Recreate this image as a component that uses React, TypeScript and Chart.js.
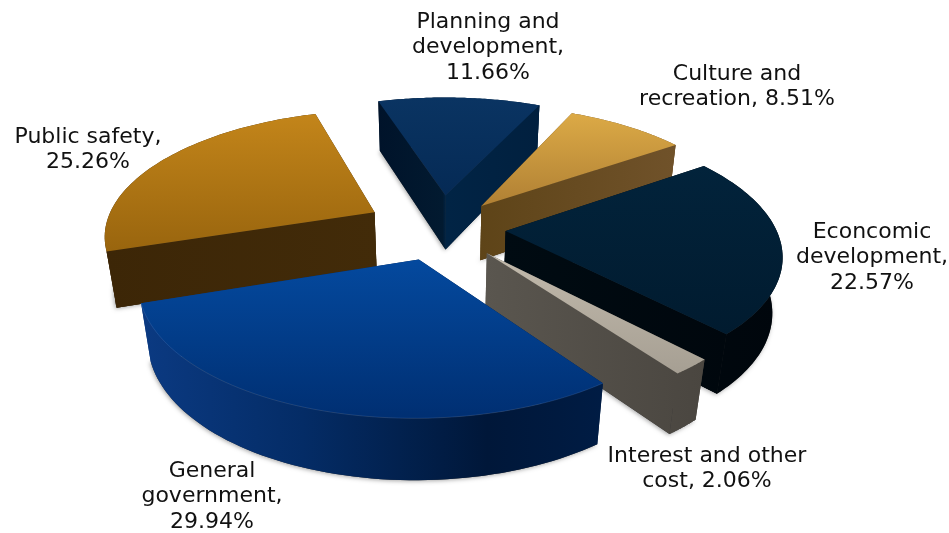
import React, { useEffect, useRef } from "react";
import { Chart, registerables } from "chart.js";

Chart.register(...registerables);

const categories = [
  "General government",
  "Public safety",
  "Planning and development",
  "Culture and recreation",
  "Econcomic development",
  "Interest and other cost",
];
const shares = [29.94, 25.26, 11.66, 8.51, 22.57, 2.06];

// Text rows of each callout; {v} is replaced with the formatted share.
const calloutRows = [
  ["General", "government,", "{v}"],
  ["Public safety,", "{v}"],
  ["Planning and", "development,", "{v}"],
  ["Culture and", "recreation, {v}"],
  ["Econcomic", "development,", "{v}"],
  ["Interest and other", "cost, {v}"],
];
const calloutAnchors = [
  [212, 471],
  [88, 137],
  [488, 22],
  [737, 74],
  [872, 232],
  [707, 456],
];

const explode = [60, 66, 64, 56, 56, 60];
// Outward reach of each wedge relative to the pie radius.
const reach = [0.98, 1, 1, 1, 1, 0.97];

const topFaces = [
  ["#04499e", "#002f72"],
  ["#c3851a", "#99650e"],
  ["#0a3462", "#052a55"],
  ["#dcaa46", "#b08034"],
  ["#02233b", "#011b2f"],
  ["#c2baac", "#a69f93"],
];
const wallFaces: [number, string][][] = [
  [[0, "#0b3a82"], [0.35, "#042c66"], [0.75, "#001739"], [1, "#001c44"]],
  [[0, "#3c2607"], [1, "#422b09"]],
  [[0, "#00132a"], [0.4, "#021a30"], [0.42, "#012445"], [1, "#01203f"]],
  [[0, "#5e4418"], [1, "#70522a"]],
  [[0, "#000b12"], [1, "#00060c"]],
  [[0, "#5a564f"], [1, "#4a4640"]],
];

// Perspective camera looking down on the pie plane.
const VIEW = { cx: 441, cy: 228, a: 270, b: 124, depth: 57, p: 0.165, q: 0.03 };

function project(u: number, v: number, z: number): [number, number] {
  const s = 1 / (1 - VIEW.p * v + VIEW.q * z);
  return [VIEW.cx + VIEW.a * u * s, VIEW.cy + (VIEW.b * v + VIEW.depth * z) * s];
}

function traceLoop(ctx: CanvasRenderingContext2D, pts: [number, number][]) {
  ctx.beginPath();
  pts.forEach(([x, y], i) => (i ? ctx.lineTo(x, y) : ctx.moveTo(x, y)));
  ctx.closePath();
}

const pie3d = {
  id: "pie3d",
  beforeDatasetDraw(chart: any) {
    const ctx: CanvasRenderingContext2D = chart.ctx;
    const arcs = chart.getDatasetMeta(0).data;
    const slices = arcs.map((arc: any, index: number) => {
      const { startAngle, endAngle, outerRadius } = arc.getProps(
        ["startAngle", "endAngle", "outerRadius"],
        true
      );
      const mid = (startAngle + endAngle) / 2;
      const gap = (arc.options.offset || 0) / outerRadius;
      return { index, startAngle, endAngle, mid, ou: gap * Math.cos(mid), ov: gap * Math.sin(mid) };
    });

    // Painter's order: slices nearest the back of the plane first.
    slices.sort((s: any, t: any) => Math.sin(s.mid) - Math.sin(t.mid));

    for (const s of slices) {
      const steps = 64;
      const r = reach[s.index];
      const rim = (z: number) => {
        const out: [number, number][] = [];
        for (let i = 0; i <= steps; i++) {
          const t = s.startAngle + ((s.endAngle - s.startAngle) * i) / steps;
          out.push(project(s.ou + r * Math.cos(t), s.ov + r * Math.sin(t), z));
        }
        return out;
      };
      const topRim = rim(0);
      const lowRim = rim(1);
      const apexTop = project(s.ou, s.ov, 0);
      const apexLow = project(s.ou, s.ov, 1);
      const all = [...topRim, ...lowRim, apexTop, apexLow];
      const xs = all.map((p) => p[0]);
      const topYs = [...topRim, apexTop].map((p) => p[1]);

      const wall = ctx.createLinearGradient(Math.min(...xs), 0, Math.max(...xs), 0);
      wallFaces[s.index].forEach(([o, c]) => wall.addColorStop(o, c));
      const top = ctx.createLinearGradient(0, Math.min(...topYs), 0, Math.max(...topYs));
      top.addColorStop(0, topFaces[s.index][0]);
      top.addColorStop(1, topFaces[s.index][1]);

      const walls = [
        { a: topRim[0], b: lowRim[0], sortV: Math.sin(s.startAngle) },
        { a: topRim[steps], b: lowRim[steps], sortV: Math.sin(s.endAngle) },
      ].sort((m, n) => m.sortV - n.sortV);
      const front = walls[1];

      // Soft contact shadow under the parts of the wall facing the viewer.
      ctx.save();
      ctx.fillStyle = "#333";
      ctx.shadowColor = "rgba(0,0,0,0.35)";
      ctx.shadowBlur = 4;
      ctx.shadowOffsetX = -1;
      ctx.shadowOffsetY = 1;
      traceLoop(ctx, [...lowRim, apexLow]);
      ctx.fill();
      ctx.restore();

      ctx.fillStyle = wall;
      for (const w of walls) {
        traceLoop(ctx, [apexTop, w.a, w.b, apexLow]);
        ctx.fill();
      }
      traceLoop(ctx, [...topRim, ...[...lowRim].reverse()]);
      ctx.fill();
      traceLoop(ctx, [apexTop, front.a, front.b, apexLow]);
      if (Math.sin(s.mid) < 0.5) ctx.fill();

      ctx.fillStyle = top;
      traceLoop(ctx, [apexTop, ...topRim]);
      ctx.fill();

      // Faint bevel highlight along the front curved edge.
      if (s.index === 0) {
        ctx.beginPath();
        topRim.forEach(([x, y], i) => (i ? ctx.lineTo(x, y) : ctx.moveTo(x, y)));
        ctx.strokeStyle = "rgba(120,160,220,0.18)";
        ctx.lineWidth = 1;
        ctx.stroke();
      }
    }
    return false;
  },
  afterDraw(chart: any) {
    const ctx: CanvasRenderingContext2D = chart.ctx;
    ctx.save();
    ctx.font = '22px "DejaVu Sans"';
    ctx.fillStyle = "#111111";
    ctx.textAlign = "center";
    ctx.textBaseline = "middle";
    calloutRows.forEach((rows, i) => {
      const [x, y] = calloutAnchors[i];
      rows.forEach((row, r) => {
        ctx.fillText(row.replace("{v}", shares[i].toFixed(2) + "%"), x, y + r * 25.7);
      });
    });
    ctx.restore();
  },
};

export default function App() {
  const ref = useRef<HTMLCanvasElement>(null);
  useEffect(() => {
    const chart = new Chart(ref.current!, {
      type: "pie",
      data: {
        labels: categories,
        datasets: [
          {
            data: shares,
            backgroundColor: topFaces.map((f) => f[0]),
            borderWidth: 0,
            offset: explode,
          },
        ],
      },
      options: {
        responsive: false,
        animation: false,
        rotation: 144,
        plugins: { legend: { display: false }, tooltip: { enabled: false } },
      },
      plugins: [pie3d],
    });
    return () => chart.destroy();
  }, []);
  return (
    <canvas
      ref={ref}
      width={949}
      height={533}
      style={{ position: "absolute", left: 0, top: 0, display: "block", background: "#fff" }}
    />
  );
}
